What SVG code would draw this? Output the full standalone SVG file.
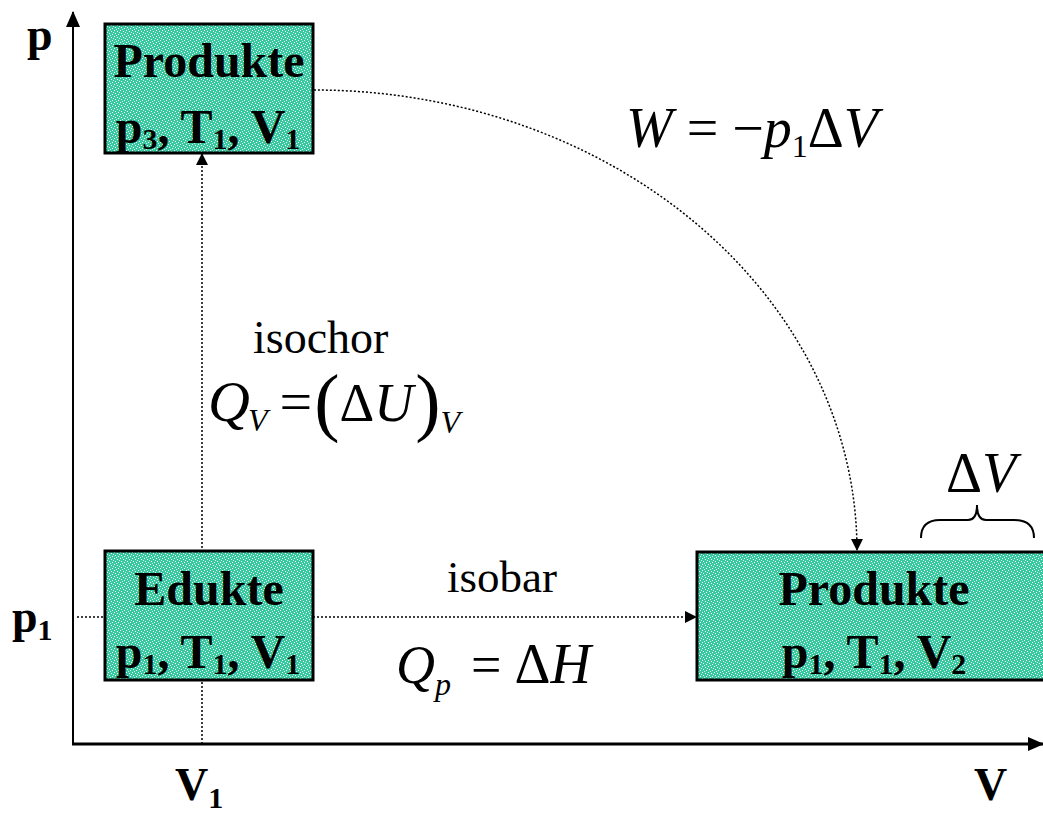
<svg xmlns="http://www.w3.org/2000/svg" width="1043" height="814" viewBox="0 0 1043 814">
<style>
.box{fill:url(#speck);stroke:#000;stroke-width:3}
.bt{font-family:"Liberation Serif",serif;font-weight:bold;font-size:48px;fill:#000;text-anchor:middle}
.ax{font-family:"Liberation Serif",serif;font-weight:bold;font-size:46px;fill:#000}
.sub{font-size:30px}
.r{font-family:"Liberation Serif",serif;fill:#000}
.it{font-style:italic}
.dot{fill:none;stroke:#000;stroke-width:1.5;stroke-dasharray:2 2}
</style>
<defs>
<pattern id="speck" width="6" height="6" patternUnits="userSpaceOnUse">
<rect width="6" height="6" fill="#38c9a0"/>
<rect x="0" y="0" width="1" height="1" fill="#fff"/>
<rect x="3" y="1" width="1" height="1" fill="#fff"/>
<rect x="1" y="3" width="1" height="1" fill="#fff"/>
<rect x="4" y="4" width="1" height="1" fill="#fff"/>
<rect x="5" y="2" width="1" height="1" fill="#cfe"/>
<rect x="2" y="5" width="1" height="1" fill="#cfe"/>
</pattern>
<marker id="ah" markerWidth="12" markerHeight="12" refX="11" refY="6" orient="auto" markerUnits="userSpaceOnUse"><path d="M0,0 L12,6 L0,12 z" fill="#000"/></marker>
<marker id="ax" markerWidth="16" markerHeight="14" refX="15" refY="7" orient="auto" markerUnits="userSpaceOnUse"><path d="M0,0 L16,7 L0,14 z" fill="#000"/></marker>
</defs>
<g id="axes">
<line x1="73" y1="745" x2="73" y2="12" stroke="#000" stroke-width="2" marker-end="url(#ax)"/>
<line x1="72" y1="744" x2="1043" y2="744" stroke="#000" stroke-width="3" marker-end="url(#ax)"/>
<text class="ax" x="27" y="50">p</text>
<text class="ax" x="12" y="632">p<tspan class="sub" dy="8">1</tspan></text>
<text class="ax" x="175" y="800">V<tspan class="sub" dy="8">1</tspan></text>
<text class="ax" x="974" y="800">V</text>
</g>
<g id="connectors">
<line class="dot" x1="202" y1="744" x2="202" y2="154" marker-end="url(#ah)"/>
<line class="dot" x1="77" y1="617" x2="696" y2="617" marker-end="url(#ah)"/>
<path class="dot" d="M314,90 A543,461 0 0 1 857,550" marker-end="url(#ah)"/>
</g>
<g id="produkte-top">
<rect class="box" x="105" y="24" width="208" height="129"/>
<text class="bt" x="209" y="77">Produkte</text>
<text class="bt" x="208" y="143">p<tspan class="sub" dy="6">3</tspan><tspan dy="-6">, T</tspan><tspan class="sub" dy="6">1</tspan><tspan dy="-6">, V</tspan><tspan class="sub" dy="6">1</tspan></text>
</g>
<g id="edukte">
<rect class="box" x="105" y="551" width="208" height="129"/>
<text class="bt" x="209" y="605">Edukte</text>
<text class="bt" x="208" y="668">p<tspan class="sub" dy="6">1</tspan><tspan dy="-6">, T</tspan><tspan class="sub" dy="6">1</tspan><tspan dy="-6">, V</tspan><tspan class="sub" dy="6">1</tspan></text>
</g>
<g id="produkte-right">
<rect class="box" x="697" y="552" width="348" height="128"/>
<text class="bt" x="874" y="605">Produkte</text>
<text class="bt" x="874" y="668">p<tspan class="sub" dy="6">1</tspan><tspan dy="-6">, T</tspan><tspan class="sub" dy="6">1</tspan><tspan dy="-6">, V</tspan><tspan class="sub" dy="6">2</tspan></text>
</g>
<g id="labels">
<text class="r" x="626" y="147" font-size="56"><tspan class="it">W</tspan> = −<tspan class="it">p</tspan><tspan font-size="32" dy="10">1</tspan><tspan dy="-10">Δ</tspan><tspan class="it">V</tspan></text>
<text class="r" x="253" y="353" font-size="46">isochor</text>
<text class="r" x="208" y="421" font-size="58"><tspan class="it">Q</tspan><tspan class="it" font-size="32" dy="10" dx="-2">V</tspan><tspan dy="-10" dx="12">=</tspan><tspan font-size="76" dy="6" dx="2">(</tspan><tspan dy="-6" font-size="54">Δ</tspan><tspan class="it" font-size="54">U</tspan><tspan font-size="76" dy="6" dx="2">)</tspan><tspan class="it" font-size="32" dy="6">V</tspan></text>
<text class="r" x="447" y="592" font-size="45">isobar</text>
<text class="r" x="396" y="683" font-size="54"><tspan class="it">Q</tspan><tspan class="it" font-size="32" dy="12">p</tspan><tspan dy="-12" dx="20">=</tspan><tspan dx="13" font-size="56">Δ</tspan><tspan class="it" font-size="56">H</tspan></text>
<text class="r" x="946" y="492" font-size="56">Δ<tspan class="it">V</tspan></text>
<path d="M921,538 Q921,520 940,520 L968,520 Q977,520 977,505 Q977,520 986,520 L1014,520 Q1034,520 1034,538" fill="none" stroke="#000" stroke-width="2"/>
</g>
</svg>
